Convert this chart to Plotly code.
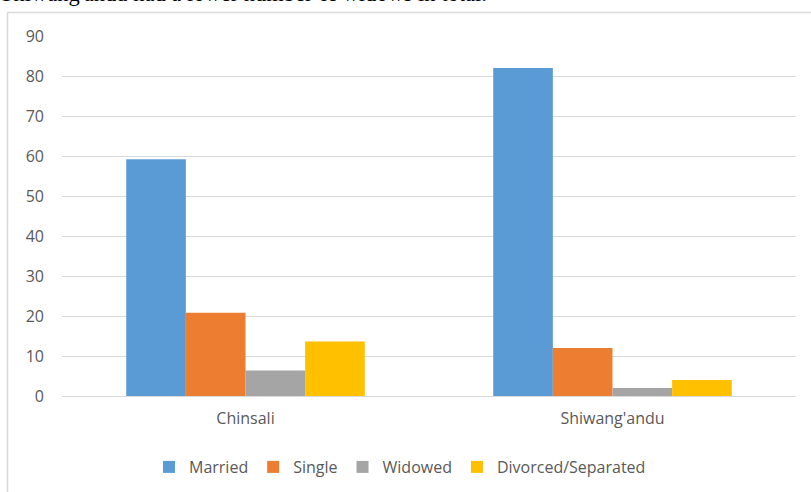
import plotly.graph_objects as go

# Marital status by district (per cent of respondents)
districts = ["Chinsali", "Shiwang'andu"]
married = [59.2, 82.0]
single = [20.8, 12.0]
widowed = [6.4, 2.0]
divorced = [13.6, 4.0]

series_names = ["Married", "Single", "Widowed", "Divorced/Separated"]
series_values = [married, single, widowed, divorced]
series_colors = ["#5B9BD5", "#ED7D31", "#A5A5A5", "#FFC000"]

y_ticks = list(range(0, 91, 10))

W, H = 811, 492
ML, MR, MT, MB = 62, 15, 36, 96
plot_w = W - ML - MR
plot_h = H - MT - MB


def px_x(px):
    return (px - ML) / plot_w


def px_y(py):
    return (H - MB - py) / plot_h


fig = go.Figure()
for name, vals, col in zip(series_names, series_values, series_colors):
    fig.add_trace(go.Bar(
        x=districts, y=vals, name=name,
        marker=dict(color=col, line=dict(width=0)),
    ))

tick_font = dict(family="Open Sans", size=16, color="#595959")

fig.update_layout(
    width=W, height=H,
    margin=dict(l=ML, r=MR, t=MT, b=MB, pad=0, autoexpand=False),
    paper_bgcolor="white", plot_bgcolor="white",
    barmode="group", bargap=0.35, bargroupgap=0,
    showlegend=True,
    legend=dict(
        orientation="h", x=px_x(400), xanchor="center",
        y=px_y(467), yanchor="middle",
        font=dict(family="Open Sans", size=16, color="#595959"),
        itemwidth=30, traceorder="normal",
    ),
    xaxis=dict(
        showgrid=False, showline=False, zeroline=False, automargin=False,
        tickfont=tick_font, ticks="", ticklabelstandoff=11,
    ),
    yaxis=dict(
        range=[0, 90], tickvals=y_ticks, showgrid=True, automargin=False,
        gridcolor="#D9D9D9", gridwidth=1, zeroline=True,
        zerolinecolor="#D9D9D9", zerolinewidth=1, showline=False,
        tickfont=tick_font, ticks="", ticklabelstandoff=17,
    ),
    font=dict(family="Open Sans"),
)

# Frame around the chart area
fig.add_shape(
    type="rect", xref="paper", yref="paper",
    x0=px_x(7.5), x1=px_x(820), y0=px_y(520), y1=px_y(12.5),
    line=dict(color="#D9D9D9", width=1.5), fillcolor="rgba(0,0,0,0)",
    layer="below",
)

# Sentence from the surrounding text
fig.add_annotation(
    text="Shiwang'andu had a lower number of widows in total.",
    xref="paper", yref="paper", x=px_x(-1), y=px_y(8),
    xanchor="left", yanchor="bottom", showarrow=False,
    font=dict(family="Liberation Serif", size=22.5, color="black"),
)

fig.write_html("out.html")
